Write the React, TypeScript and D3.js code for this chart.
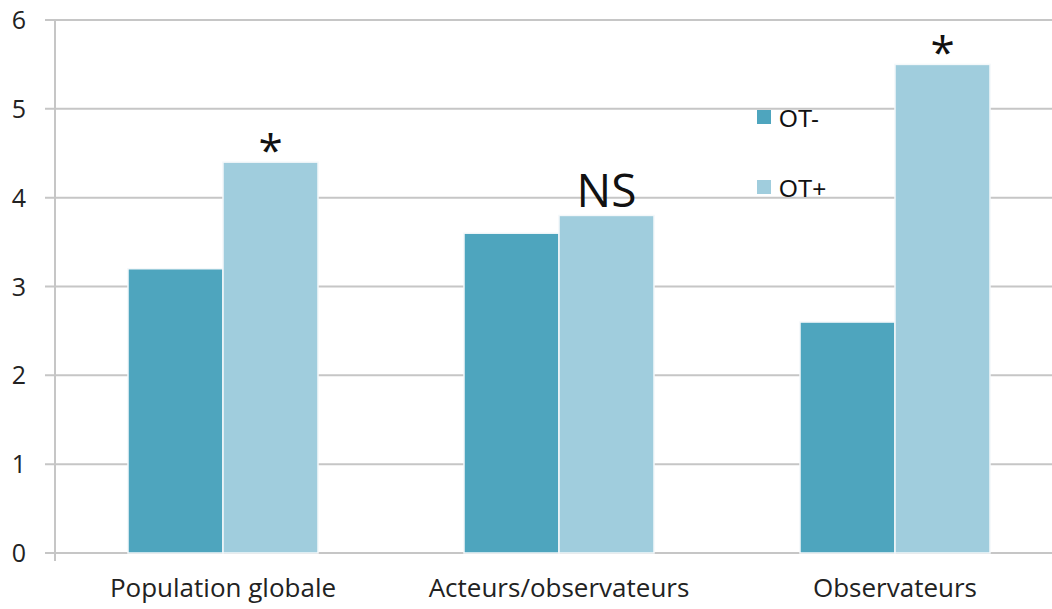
import { useEffect, useRef } from 'react';
import * as d3 from 'd3';

const categories = ["Population globale", "Acteurs/observateurs", "Observateurs"];
const seriesNames = ["OT-", "OT+"];
const otMinus = [3.2, 3.6, 2.6];
const otPlus = [4.4, 3.8, 5.5];
const annotations = ["*", "NS", "*"];
const yTicks = [0, 1, 2, 3, 4, 5, 6];
const colors = ["#4ea5be", "#a0cddd"];

export default function App() {
    const ref = useRef<SVGSVGElement>(null);

    useEffect(() => {
        if (!ref.current) return;
        const svg = d3.select(ref.current);
        svg.selectAll("*").remove();

        const width = 1052;
        const height = 609;
        const marginLeft = 55;
        const marginTop = 20;
        const marginBottom = 56;

        const x = d3.scaleBand()
            .domain(categories)
            .range([marginLeft, marginLeft + 3 * 336]);

        const xInner = d3.scaleBand()
            .domain(seriesNames)
            .range([(336 - 190) / 2, (336 + 190) / 2]);

        const y = d3.scaleLinear()
            .domain([0, 6])
            .range([height - marginBottom, marginTop]);

        const font = "'Open Sans', 'DejaVu Sans', sans-serif";

        // gridlines
        svg.append("g")
            .selectAll("line")
            .data(yTicks)
            .join("line")
            .attr("x1", marginLeft - 10)
            .attr("x2", width)
            .attr("y1", d => y(d))
            .attr("y2", d => y(d))
            .attr("stroke", "#c6c6c6")
            .attr("stroke-width", 2);

        // y axis line
        svg.append("line")
            .attr("x1", marginLeft)
            .attr("x2", marginLeft)
            .attr("y1", y(6))
            .attr("y2", y(0) + 8)
            .attr("stroke", "#c6c6c6")
            .attr("stroke-width", 2);

        // y tick labels
        svg.append("g")
            .selectAll("text")
            .data(yTicks)
            .join("text")
            .attr("x", 19)
            .attr("y", d => y(d))
            .attr("dy", "0.36em")
            .attr("text-anchor", "middle")
            .style("font-family", font)
            .style("font-size", "25px")
            .style("fill", "#222")
            .text(d => d);

        // bars
        const data = categories.map((c, i) => ({ category: c, values: [otMinus[i], otPlus[i]] }));

        const groups = svg.append("g")
            .selectAll("g")
            .data(data)
            .join("g")
            .attr("transform", d => `translate(${x(d.category)},0)`);

        groups.selectAll("rect")
            .data(d => d.values.map((v, j) => ({ key: seriesNames[j], value: v, j })))
            .join("rect")
            .attr("x", d => xInner(d.key) || 0)
            .attr("width", xInner.bandwidth())
            .attr("y", d => y(d.value))
            .attr("height", d => y(0) - y(d.value))
            .attr("fill", d => colors[d.j])
            .attr("stroke", "#f4f8fa")
            .attr("stroke-width", 1.5);

        // significance annotations
        groups.append("text")
            .attr("x", (xInner("OT+") || 0) + xInner.bandwidth() / 2)
            .attr("y", (d, i) => y(d.values[1]) - (annotations[i] === "*" ? -4 : 8))
            .attr("text-anchor", "middle")
            .style("font-family", font)
            .style("font-size", (d, i) => annotations[i] === "*" ? "44px" : "46px")
            .style("fill", "#111")
            .text((d, i) => annotations[i]);

        // x labels
        svg.append("g")
            .selectAll("text")
            .data(categories)
            .join("text")
            .attr("x", d => (x(d) || 0) + x.bandwidth() / 2)
            .attr("y", height - 12)
            .attr("text-anchor", "middle")
            .style("font-family", font)
            .style("font-size", "26px")
            .style("fill", "#222")
            .text(d => d);

        // legend
        const legend = svg.append("g")
            .attr("transform", "translate(757,110)");

        legend.selectAll("rect")
            .data(seriesNames)
            .join("rect")
            .attr("x", 0)
            .attr("y", (d, i) => i * 70)
            .attr("width", 14)
            .attr("height", 14)
            .attr("fill", (d, i) => colors[i]);

        legend.selectAll("text")
            .data(seriesNames)
            .join("text")
            .attr("x", 22)
            .attr("y", (d, i) => i * 70 + 17)
            .style("font-family", "'Liberation Sans', Arial, sans-serif")
            .style("font-size", "24px")
            .style("fill", "#111")
            .text(d => d);
    }, []);

    return (
        <svg ref={ref} width={1052} height={609}
            style={{ position: "absolute", top: 0, left: 0, background: "#fff" }} />
    );
}
